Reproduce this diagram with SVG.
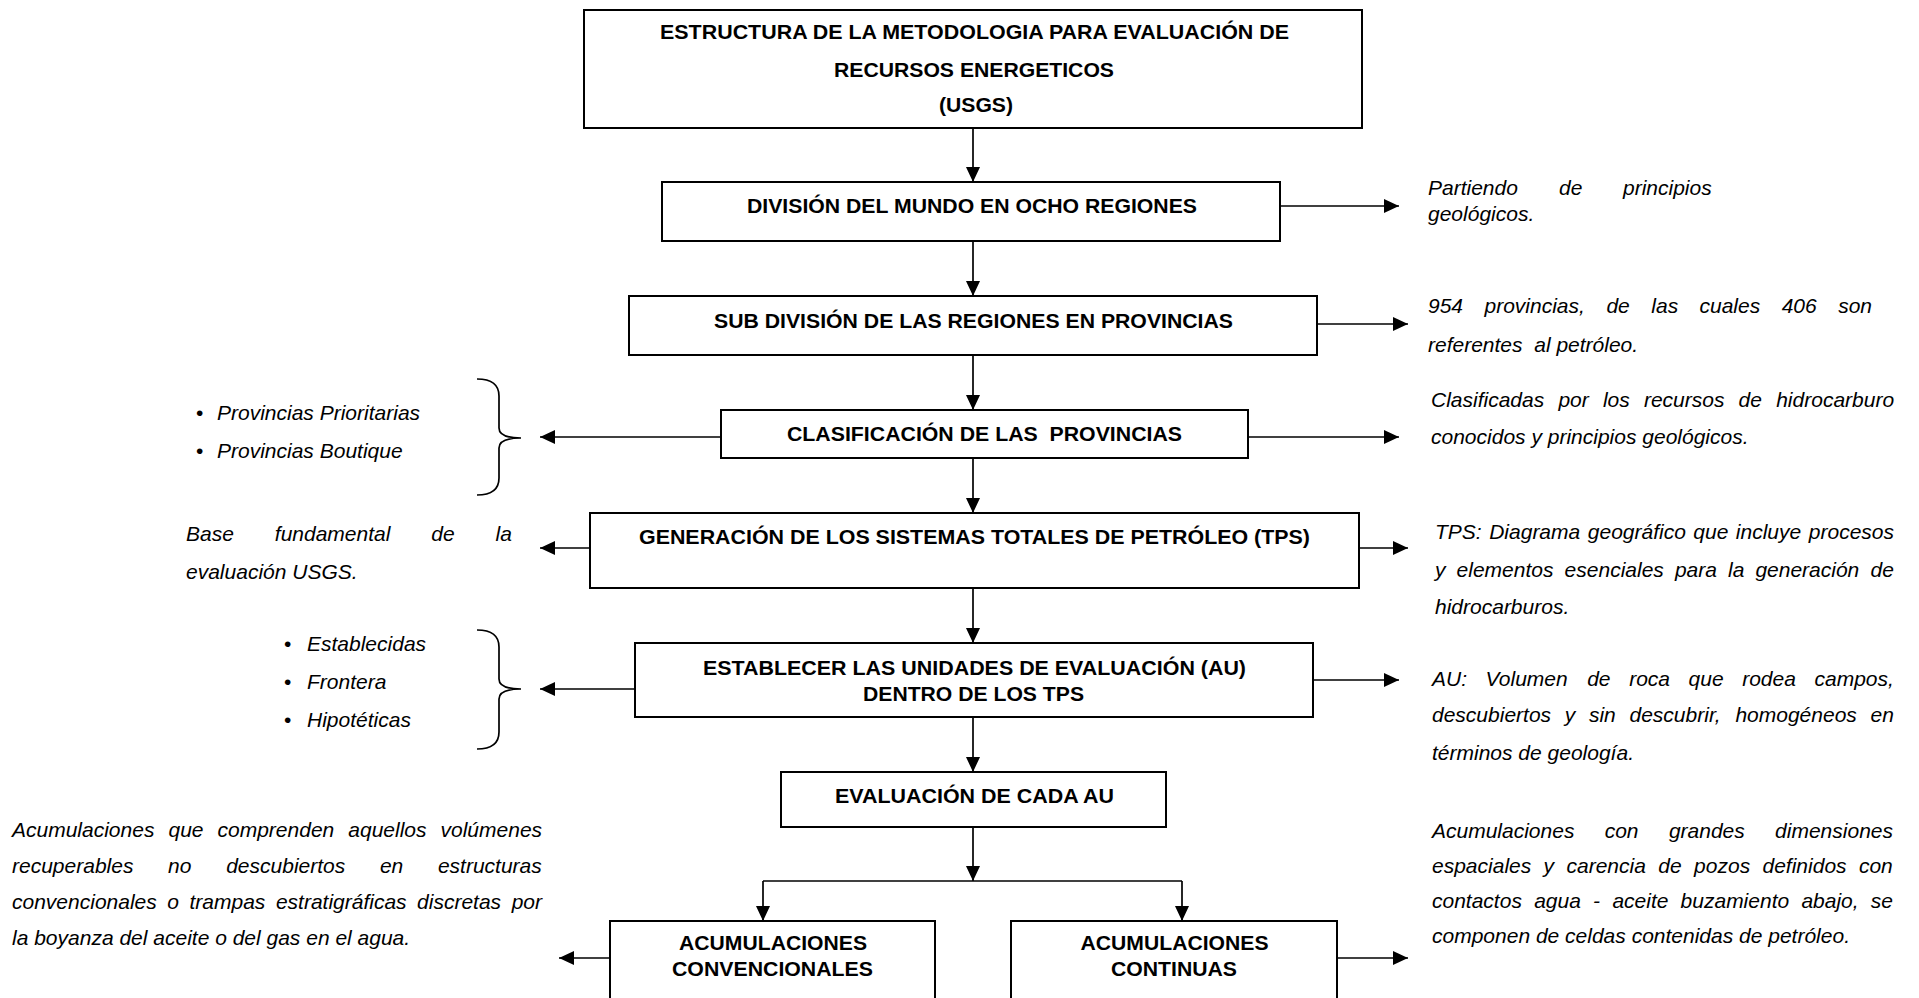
<svg xmlns="http://www.w3.org/2000/svg" width="1919" height="998" viewBox="0 0 1919 998">
<style>
.box{fill:#fff;stroke:#000;stroke-width:2}
.b{font-family:"Liberation Sans",Arial,sans-serif;font-weight:bold;font-size:20.5px;fill:#000;text-anchor:middle}
.i{font-family:"Liberation Sans",Arial,sans-serif;font-style:italic;font-size:21px;fill:#000}
.bu{font-family:"Liberation Sans",Arial,sans-serif;font-size:21px;fill:#000}
.c{stroke:#000;stroke-width:1.7;fill:none}
.br{stroke:#000;stroke-width:1.7;fill:none}
</style>
<defs>
<marker id="ah" markerUnits="userSpaceOnUse" markerWidth="15" markerHeight="14" refX="15" refY="7" orient="auto"><path d="M0,0 L15,7 L0,14 z" fill="#000"/></marker>
</defs>
<rect width="1919" height="998" fill="#fff"/>

<g id="connectors">
<line class="c" x1="973" y1="128" x2="973" y2="182" marker-end="url(#ah)"/>
<line class="c" x1="973" y1="241" x2="973" y2="296" marker-end="url(#ah)"/>
<line class="c" x1="973" y1="355" x2="973" y2="410" marker-end="url(#ah)"/>
<line class="c" x1="973" y1="458" x2="973" y2="513" marker-end="url(#ah)"/>
<line class="c" x1="973" y1="588" x2="973" y2="643" marker-end="url(#ah)"/>
<line class="c" x1="973" y1="717" x2="973" y2="772" marker-end="url(#ah)"/>
<line class="c" x1="973" y1="827" x2="973" y2="881" marker-end="url(#ah)"/>
<line class="c" x1="763" y1="881" x2="1182" y2="881"/>
<line class="c" x1="763" y1="881" x2="763" y2="921" marker-end="url(#ah)"/>
<line class="c" x1="1182" y1="881" x2="1182" y2="921" marker-end="url(#ah)"/>
<line class="c" x1="1280" y1="206" x2="1399" y2="206" marker-end="url(#ah)"/>
<line class="c" x1="1317" y1="324" x2="1408" y2="324" marker-end="url(#ah)"/>
<line class="c" x1="1248" y1="437" x2="1399" y2="437" marker-end="url(#ah)"/>
<line class="c" x1="721" y1="437" x2="540" y2="437" marker-end="url(#ah)"/>
<line class="c" x1="590" y1="548" x2="540" y2="548" marker-end="url(#ah)"/>
<line class="c" x1="1359" y1="548" x2="1408" y2="548" marker-end="url(#ah)"/>
<line class="c" x1="635" y1="689" x2="540" y2="689" marker-end="url(#ah)"/>
<line class="c" x1="1313" y1="680" x2="1399" y2="680" marker-end="url(#ah)"/>
<line class="c" x1="610" y1="958" x2="559" y2="958" marker-end="url(#ah)"/>
<line class="c" x1="1337" y1="958" x2="1408" y2="958" marker-end="url(#ah)"/>
</g>

<g id="n-titulo">
<rect class="box" x="584" y="10" width="778" height="118"/>
<text class="b" x="974.5" y="39" textLength="629" lengthAdjust="spacingAndGlyphs">ESTRUCTURA DE LA METODOLOGIA PARA EVALUACIÓN DE</text>
<text class="b" x="974" y="77" textLength="280" lengthAdjust="spacingAndGlyphs">RECURSOS ENERGETICOS</text>
<text class="b" x="976" y="112" textLength="74" lengthAdjust="spacingAndGlyphs">(USGS)</text>
</g>

<g id="n-division">
<rect class="box" x="662" y="182" width="618" height="59"/>
<text class="b" x="972" y="213" textLength="450" lengthAdjust="spacingAndGlyphs">DIVISIÓN DEL MUNDO EN OCHO REGIONES</text>
</g>

<g id="n-subdivision">
<rect class="box" x="629" y="296" width="688" height="59"/>
<text class="b" x="973.5" y="328" textLength="519" lengthAdjust="spacingAndGlyphs">SUB DIVISIÓN DE LAS REGIONES EN PROVINCIAS</text>
</g>

<g id="n-clasificacion">
<rect class="box" x="721" y="410" width="527" height="48"/>
<text class="b" x="984.5" y="441" textLength="395" lengthAdjust="spacingAndGlyphs" xml:space="preserve">CLASIFICACIÓN DE LAS  PROVINCIAS</text>
</g>

<g id="n-generacion">
<rect class="box" x="590" y="513" width="769" height="75"/>
<text class="b" x="974.5" y="544" textLength="671" lengthAdjust="spacingAndGlyphs">GENERACIÓN DE LOS SISTEMAS TOTALES DE PETRÓLEO (TPS)</text>
</g>

<g id="n-establecer">
<rect class="box" x="635" y="643" width="678" height="74"/>
<text class="b" x="974.5" y="675" textLength="543" lengthAdjust="spacingAndGlyphs">ESTABLECER LAS UNIDADES DE EVALUACIÓN (AU)</text>
<text class="b" x="973.5" y="701" textLength="221" lengthAdjust="spacingAndGlyphs">DENTRO DE LOS TPS</text>
</g>

<g id="n-evaluacion">
<rect class="box" x="781" y="772" width="385" height="55"/>
<text class="b" x="974.5" y="803" textLength="279" lengthAdjust="spacingAndGlyphs">EVALUACIÓN DE CADA AU</text>
</g>

<g id="n-convencionales">
<rect class="box" x="610" y="921" width="325" height="100"/>
<text class="b" x="773" y="950" textLength="188" lengthAdjust="spacingAndGlyphs">ACUMULACIONES</text>
<text class="b" x="772.5" y="976" textLength="201" lengthAdjust="spacingAndGlyphs">CONVENCIONALES</text>
</g>

<g id="n-continuas">
<rect class="box" x="1011" y="921" width="326" height="100"/>
<text class="b" x="1174.5" y="950" textLength="188" lengthAdjust="spacingAndGlyphs">ACUMULACIONES</text>
<text class="b" x="1174" y="976" textLength="126" lengthAdjust="spacingAndGlyphs">CONTINUAS</text>
</g>

<g id="t-partiendo">
<text class="i" y="195"><tspan x="1428">Partiendo</tspan><tspan x="1559">de</tspan><tspan x="1623">principios</tspan></text>
<text class="i" x="1428" y="221">geológicos.</text>
</g>

<g id="t-provincias954">
<text class="i" y="313"><tspan x="1428">954</tspan><tspan x="1484.5">provincias,</tspan><tspan x="1606.4">de</tspan><tspan x="1651.3">las</tspan><tspan x="1699.5">cuales</tspan><tspan x="1781.7">406</tspan><tspan x="1838.2">son</tspan></text>
<text class="i" x="1428" y="352" xml:space="preserve">referentes  al petróleo.</text>
</g>

<g id="t-clasificadas">
<text class="i" y="407"><tspan x="1431">Clasificadas</tspan><tspan x="1558.4">por</tspan><tspan x="1602.9">los</tspan><tspan x="1643.9">recursos</tspan><tspan x="1738.6">de</tspan><tspan x="1776.2">hidrocarburo</tspan></text>
<text class="i" x="1431" y="444">conocidos y principios geológicos.</text>
</g>

<g id="t-bullets1">
<text class="bu" x="196" y="420">•</text>
<text class="i" x="217" y="420">Provincias Prioritarias</text>
<text class="bu" x="196" y="458">•</text>
<text class="i" x="217" y="458">Provincias Boutique</text>
<path class="br" d="M477,379 Q499,379 499,396 L499,428 Q499,438 521,438 Q499,438 499,448 L499,478 Q499,495 477,495"/>
</g>

<g id="t-base">
<text class="i" y="541"><tspan x="186">Base</tspan><tspan x="274.8">fundamental</tspan><tspan x="431.3">de</tspan><tspan x="495.6">la</tspan></text>
<text class="i" x="186" y="579">evaluación USGS.</text>
</g>

<g id="t-tps">
<text class="i" y="539"><tspan x="1435">TPS:</tspan><tspan x="1489.2">Diagrama</tspan><tspan x="1587.8">geográfico</tspan><tspan x="1693.3">que</tspan><tspan x="1735.8">incluye</tspan><tspan x="1808.8">procesos</tspan></text>
<text class="i" y="577"><tspan x="1435">y</tspan><tspan x="1456.6">elementos</tspan><tspan x="1564.6">esenciales</tspan><tspan x="1674.9">para</tspan><tspan x="1728">la</tspan><tspan x="1755.4">generación</tspan><tspan x="1870.5">de</tspan></text>
<text class="i" x="1435" y="614">hidrocarburos.</text>
</g>

<g id="t-bullets2">
<text class="bu" x="284" y="651">•</text>
<text class="i" x="307" y="651">Establecidas</text>
<text class="bu" x="284" y="689">•</text>
<text class="i" x="307" y="689">Frontera</text>
<text class="bu" x="284" y="727">•</text>
<text class="i" x="307" y="727">Hipotéticas</text>
<path class="br" d="M477,630 Q499,630 499,647 L499,679 Q499,689 521,689 Q499,689 499,699 L499,732 Q499,749 477,749"/>
</g>

<g id="t-au">
<text class="i" y="686"><tspan x="1432">AU:</tspan><tspan x="1485.6">Volumen</tspan><tspan x="1587.2">de</tspan><tspan x="1629.2">roca</tspan><tspan x="1688.6">que</tspan><tspan x="1742.2">rodea</tspan><tspan x="1814.5">campos,</tspan></text>
<text class="i" y="722"><tspan x="1432">descubiertos</tspan><tspan x="1564.7">y</tspan><tspan x="1588.9">sin</tspan><tspan x="1629.5">descubrir,</tspan><tspan x="1735.4">homogéneos</tspan><tspan x="1870.6">en</tspan></text>
<text class="i" x="1432" y="760">términos de geología.</text>
</g>

<g id="t-convencionales">
<text class="i" y="837"><tspan x="12">Acumulaciones</tspan><tspan x="168.5">que</tspan><tspan x="217.5">comprenden</tspan><tspan x="348.3">aquellos</tspan><tspan x="440.5">volúmenes</tspan></text>
<text class="i" y="873"><tspan x="12">recuperables</tspan><tspan x="168.1">no</tspan><tspan x="226.2">descubiertos</tspan><tspan x="379.9">en</tspan><tspan x="437.9">estructuras</tspan></text>
<text class="i" y="909"><tspan x="12">convencionales</tspan><tspan x="167.2">o</tspan><tspan x="189.5">trampas</tspan><tspan x="275.9">estratigráficas</tspan><tspan x="417.1">discretas</tspan><tspan x="511.7">por</tspan></text>
<text class="i" x="12" y="945">la boyanza del aceite o del gas en el agua.</text>
</g>

<g id="t-continuas">
<text class="i" y="838"><tspan x="1432">Acumulaciones</tspan><tspan x="1604.7">con</tspan><tspan x="1668.9">grandes</tspan><tspan x="1775.1">dimensiones</tspan></text>
<text class="i" y="873"><tspan x="1432">espaciales</tspan><tspan x="1543.6">y</tspan><tspan x="1566.5">carencia</tspan><tspan x="1658.3">de</tspan><tspan x="1694.1">pozos</tspan><tspan x="1762.5">definidos</tspan><tspan x="1858.9">con</tspan></text>
<text class="i" y="908"><tspan x="1432">contactos</tspan><tspan x="1534.2">agua</tspan><tspan x="1593.1">-</tspan><tspan x="1612.4">aceite</tspan><tspan x="1680.6">buzamiento</tspan><tspan x="1801.4">abajo,</tspan><tspan x="1870.8">se</tspan></text>
<text class="i" x="1432" y="943">componen de celdas contenidas de petróleo.</text>
</g>
</svg>
